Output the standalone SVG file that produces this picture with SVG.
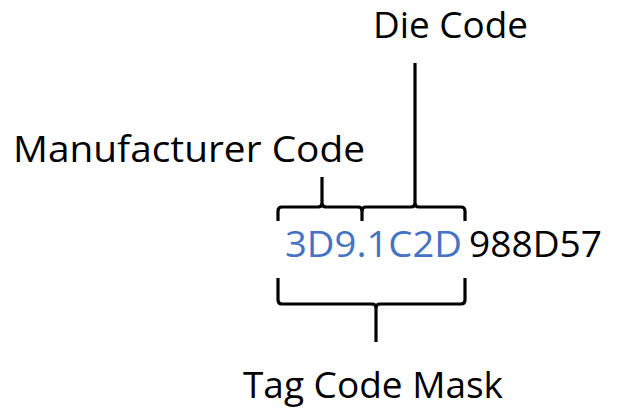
<svg xmlns="http://www.w3.org/2000/svg" width="623" height="408" viewBox="0 0 623 408">
<style>
.t{font-family:"Open Sans","Noto Sans",sans-serif;font-size:36px;fill:#000}
.b{fill:#4472C4}
.c{fill:none;stroke:#000;stroke-width:3.2;stroke-linecap:butt;stroke-linejoin:round}
</style>
<rect width="623" height="408" fill="#fff"/>
<g id="connectors">
<path class="c" d="M278,221 V211 Q278,207 282,207 H318 Q322,207 322,203 V177 M322,203 Q322,207 326,207 H358 Q362,207 362,211 V221"/>
<path class="c" d="M362,211 Q362,207 366,207 H411 Q415,207 415,203 V63 M415,203 Q415,207 419,207 H461 Q465,207 465,211 V221"/>
<path class="c" d="M278,278 V300 Q278,304 282,304 H372 Q376,304 376,308 V342 M376,308 Q376,304 380,304 H461 Q465,304 465,300 V278"/>
</g>
<g id="die-code"><text class="t" x="373" y="38" textLength="155" lengthAdjust="spacingAndGlyphs">Die Code</text></g>
<g id="manufacturer-code"><text class="t" x="13" y="162" textLength="352" lengthAdjust="spacingAndGlyphs">Manufacturer Code</text></g>
<g id="code"><text class="t" y="257"><tspan class="b" x="285" textLength="177" lengthAdjust="spacingAndGlyphs">3D9.1C2D</tspan><tspan x="469" textLength="133" lengthAdjust="spacingAndGlyphs">988D57</tspan></text></g>
<g id="tag-code-mask"><text class="t" x="243" y="398" textLength="260" lengthAdjust="spacingAndGlyphs">Tag Code Mask</text></g>
</svg>
